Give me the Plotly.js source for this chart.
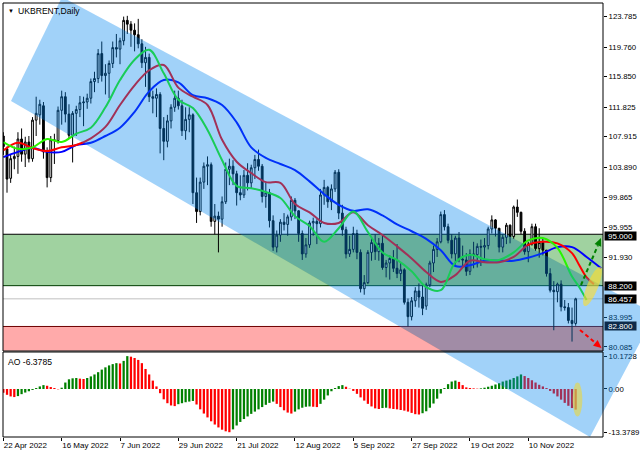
<!DOCTYPE html>
<html><head><meta charset="utf-8">
<script src="https://cdn.plot.ly/plotly-3.0.1.min.js"></script>
<style>html,body{margin:0;padding:0;background:#fff;}#chart{width:640px;height:457px;}</style>
</head><body><div id="chart"></div>
<script>
// ---------------- DATA ----------------
const dates = ['2022-04-22','2022-04-25','2022-04-26','2022-04-27','2022-04-28','2022-04-29',
'2022-05-02','2022-05-03','2022-05-04','2022-05-05','2022-05-06','2022-05-09','2022-05-10','2022-05-11','2022-05-12','2022-05-13','2022-05-16','2022-05-17','2022-05-18','2022-05-19','2022-05-20','2022-05-23','2022-05-24','2022-05-25','2022-05-26','2022-05-27','2022-05-30','2022-05-31',
'2022-06-01','2022-06-02','2022-06-03','2022-06-06','2022-06-07','2022-06-08','2022-06-09','2022-06-10','2022-06-13','2022-06-14','2022-06-15','2022-06-16','2022-06-17','2022-06-20','2022-06-21','2022-06-22','2022-06-23','2022-06-24','2022-06-27','2022-06-28','2022-06-29','2022-06-30',
'2022-07-01','2022-07-04','2022-07-05','2022-07-06','2022-07-07','2022-07-08','2022-07-11','2022-07-12','2022-07-13','2022-07-14','2022-07-15','2022-07-18','2022-07-19','2022-07-20','2022-07-21','2022-07-22','2022-07-25','2022-07-26','2022-07-27','2022-07-28','2022-07-29',
'2022-08-01','2022-08-02','2022-08-03','2022-08-04','2022-08-05','2022-08-08','2022-08-09','2022-08-10','2022-08-11','2022-08-12','2022-08-15','2022-08-16','2022-08-17','2022-08-18','2022-08-19','2022-08-22','2022-08-23','2022-08-24','2022-08-25','2022-08-26','2022-08-29','2022-08-30','2022-08-31',
'2022-09-01','2022-09-02','2022-09-05','2022-09-06','2022-09-07','2022-09-08','2022-09-09','2022-09-12','2022-09-13','2022-09-14','2022-09-15','2022-09-16','2022-09-19','2022-09-20','2022-09-21','2022-09-22','2022-09-23','2022-09-26','2022-09-27','2022-09-28','2022-09-29','2022-09-30',
'2022-10-03','2022-10-04','2022-10-05','2022-10-06','2022-10-07','2022-10-10','2022-10-11','2022-10-12','2022-10-13','2022-10-14','2022-10-17','2022-10-18','2022-10-19','2022-10-20','2022-10-21','2022-10-24','2022-10-25','2022-10-26','2022-10-27','2022-10-28','2022-10-31',
'2022-11-01','2022-11-02','2022-11-03','2022-11-04','2022-11-07','2022-11-08','2022-11-09','2022-11-10','2022-11-11','2022-11-14','2022-11-15','2022-11-16','2022-11-17','2022-11-18','2022-11-21','2022-11-22','2022-11-23','2022-11-24','2022-11-25','2022-11-28','2022-11-29'];
const futureDates = ['2022-11-30','2022-12-01','2022-12-02','2022-12-05','2022-12-06','2022-12-07','2022-12-08'];

const open = [108.0,106.3,102.4,105.0,105.3,107.6,105.6,107.2,105.0,110.1,110.8,112.0,105.9,102.5,107.5,107.4,
111.4,113.2,110.9,108.1,111.0,111.5,112.4,112.5,113.0,115.2,115.6,118.9,116.0,116.3,117.6,119.7,119.5,120.6,123.3,122.8,122.0,121.4,120.2,117.7,
118.4,113.2,113.0,113.5,109.0,107.3,110.0,111.8,113.0,112.0,108.7,110.2,110.8,100.5,98.0,101.9,104.0,104.2,96.7,97.4,
97.0,99.3,103.6,104.0,103.0,100.5,100.2,102.8,101.8,103.8,104.9,104.0,100.0,100.5,96.8,93.3,94.9,96.6,96.3,97.3,
99.5,98.1,95.1,92.4,93.6,96.5,96.7,96.4,100.2,101.2,99.3,101.0,103.2,97.8,95.6,92.4,93.0,95.1,92.6,87.8,
88.6,92.6,93.9,92.7,93.8,90.6,91.2,91.8,90.5,89.8,90.3,86.0,84.1,86.2,87.5,86.7,85.5,88.3,91.2,93.0,
94.0,97.6,96.0,94.2,92.4,94.5,91.7,91.6,90.1,92.4,92.3,93.4,93.3,93.5,95.7,96.9,95.8,93.3,94.6,96.2,
94.7,98.6,97.9,95.4,92.7,93.7,96.0,93.1,93.9,92.9,89.8,87.6,87.4,88.4,85.4,85.3,83.6,83.2];
const high = [108.5,106.6,105.5,106.6,108.5,109.0,107.9,108.0,110.5,113.2,112.8,112.5,106.5,108.0,108.3,111.9,
114.0,113.8,112.2,111.3,112.0,113.3,113.2,113.6,115.6,116.5,119.5,120.5,117.5,118.0,120.5,121.5,121.0,123.8,123.9,123.2,122.9,123.5,120.8,119.8,
118.9,114.0,114.3,113.8,110.5,110.8,112.2,114.0,114.0,112.8,111.8,111.8,111.0,102.5,102.5,104.5,105.3,104.5,99.0,98.0,
100.0,104.5,105.0,104.8,103.4,102.8,103.5,104.4,104.2,105.5,106.2,104.3,101.8,101.0,97.5,95.5,97.0,97.8,97.6,100.0,
99.8,98.2,95.5,94.5,96.8,97.2,97.0,101.0,102.2,101.4,101.6,103.5,103.6,98.9,96.0,94.8,96.0,95.6,93.0,89.6,
92.9,94.6,95.0,94.5,94.8,91.6,92.2,92.9,93.7,91.3,90.5,86.5,86.7,88.0,88.5,88.4,88.6,91.5,93.5,94.5,
98.0,98.2,96.4,95.0,94.8,95.3,93.5,92.5,93.0,94.0,93.8,94.3,94.5,96.0,97.5,97.0,95.8,95.0,96.5,96.3,
98.8,99.6,98.0,95.8,94.0,96.4,96.4,95.8,94.5,92.9,90.5,88.8,88.6,88.9,86.3,85.9,85.3,86.6];
const low = [105.5,100.5,101.8,103.6,103.0,104.6,103.9,104.5,104.6,108.0,109.5,105.0,101.2,101.9,104.3,107.0,
109.5,109.8,107.6,104.5,108.0,110.5,109.3,111.6,112.3,113.8,115.0,115.2,113.5,113.0,117.0,118.4,117.5,120.0,121.5,119.8,119.2,119.6,117.0,114.5,
112.5,111.0,110.5,105.7,104.8,106.5,109.0,111.2,111.5,108.0,107.5,108.5,99.0,96.5,97.5,101.0,101.5,96.0,95.0,92.6,
96.0,99.0,101.5,101.5,98.8,99.5,99.8,100.8,101.0,102.3,103.4,99.2,98.5,95.9,92.8,92.6,94.0,95.5,94.8,96.8,
97.0,94.0,91.6,91.9,93.2,94.8,93.7,95.9,98.9,98.5,98.2,100.6,97.0,94.8,91.8,92.0,92.6,91.7,87.3,87.0,
88.4,91.5,91.6,91.5,90.3,89.3,89.0,90.0,89.2,88.8,85.7,82.8,83.6,85.4,85.3,84.3,85.0,88.0,90.0,92.0,
93.8,95.5,93.8,91.8,91.0,91.3,90.8,89.5,89.6,90.5,90.6,90.8,91.3,93.0,95.1,94.7,92.6,92.6,93.7,93.8,
94.4,97.3,95.0,92.3,91.3,93.5,92.8,91.9,92.2,89.4,87.3,82.3,86.0,84.8,84.9,83.2,80.8,82.9];
const close = [106.6,102.3,105.0,105.3,107.6,105.6,107.2,105.0,110.1,111.0,112.2,105.9,102.5,107.5,107.4,111.4,
113.2,110.9,108.1,111.0,111.5,112.4,112.5,113.0,115.2,115.6,118.9,116.0,116.3,117.6,119.7,119.5,120.6,123.3,122.8,122.0,121.4,120.2,117.7,118.4,
113.2,113.0,113.5,109.0,107.3,110.0,111.8,113.0,112.0,108.7,110.2,110.8,100.5,98.0,101.9,104.0,104.2,96.7,97.4,97.0,
99.3,103.6,104.0,103.0,100.5,100.2,102.8,101.8,103.8,104.9,104.0,100.0,100.5,96.8,93.3,94.9,96.6,96.3,97.3,99.5,
98.1,95.1,92.4,93.6,96.5,96.7,96.4,100.2,101.2,99.3,101.0,103.2,97.8,95.6,92.4,93.0,95.1,92.6,87.8,88.6,
92.6,93.9,92.7,93.8,90.6,91.2,91.8,90.5,89.8,90.3,86.0,84.1,86.2,87.5,86.7,85.2,88.3,91.2,93.0,94.0,
97.6,96.0,94.2,92.4,94.5,91.7,91.6,90.1,92.4,92.3,93.4,93.3,93.5,95.7,96.9,95.8,93.3,94.6,96.2,94.7,
98.6,97.9,95.4,92.7,93.7,96.0,93.1,93.9,92.9,89.8,87.6,87.4,88.4,85.4,85.3,83.6,83.2,86.457];

// Alligator lines (every 4 bars, index into the date list)
const lipsIdx  = [0,4,8,12,16,20,24,28,32,36,40,44,48,52,56,60,64,68,72,76,80,84,88,92,96,100,104,108,112,116,120,124,128,132,136,140,144,148,152,156,158,160];
const lips = [107.2,106.3,106.5,107.6,107.2,108.3,109.1,111.8,115.4,118.1,
 119.4,116.3,112.8,111.7,108.8,104.8,101.4,101.1,100.6,99.8,
 97.4,96.1,94.0,95.8,98.0,95.3,92.6,91.6,90.1,88.0,
 87.6,91.3,92.3,91.7,91.6,92.6,94.2,94.5,93.2,89.4,88.0,86.3];
const teethIdx = [0,4,8,12,16,20,24,28,32,36,40,44,48,52,56,60,64,68,72,76,80,84,88,92,96,100,104,108,112,116,120,124,128,132,136,140,144,148,152,156,158,160,162];
const teeth = [106.1,107.1,106.4,106.0,106.5,106.8,107.7,109.2,112.1,114.7,
 116.7,117.4,114.4,113.2,112.1,107.5,104.6,103.1,101.9,101.8,
 99.0,97.9,96.5,96.5,97.9,96.2,94.9,93.4,91.8,90.0,
 88.7,89.6,91.5,91.3,91.3,92.0,93.6,94.0,93.8,92.5,90.9,89.3,88.4];
const jawIdx   = [0,4,8,12,16,20,24,28,32,36,40,44,48,52,56,60,64,68,72,76,80,84,88,92,96,100,104,108,112,116,120,124,128,132,136,140,144,148,152,156,160,164];
const jaw = [105.2,105.9,106.4,105.9,105.9,106.8,107.1,108.0,109.1,111.2,
 113.9,115.4,115.1,113.4,113.0,112.1,109.8,106.5,105.1,104.3,
 103.5,102.0,100.3,98.9,98.1,98.3,97.5,96.3,95.4,94.4,
 92.9,90.8,90.9,91.5,91.5,91.5,91.9,92.5,93.3,93.3,92.0,90.5];

// Awesome Oscillator
const ao = [-1.2,-1.8,-2.3,-2.5,-2.2,-1.6,-1.1,-0.7,-0.3,0.3,
0.8,1.2,1.0,0.6,0.3,-0.1,0.4,2.0,3.0,3.3,
3.4,3.2,3.1,3.4,3.9,4.5,5.2,6.0,6.7,7.3,
7.7,8.0,7.9,8.7,10.1728,10.0,9.6,9.0,8.0,6.2,
4.5,2.6,0.8,-1.3,-3.2,-4.4,-5.1,-5.3,-4.7,-4.4,
-4.1,-3.9,-3.7,-4.8,-6.3,-7.6,-8.8,-10.0,-11.0,-11.9,
-12.6,-13.1,-13.3789,-12.5,-11.3,-10.2,-9.3,-8.5,-7.7,-7.0,
-6.3,-5.6,-4.9,-4.3,-3.9,-4.6,-5.6,-6.6,-7.3,-7.6,
-7.0,-6.3,-5.8,-5.5,-5.4,-5.5,-5.6,-4.6,-3.3,-2.0,
-0.7,0.3,0.9,1.2,0.7,0.1,-0.6,-1.5,-2.6,-3.6,
-4.6,-5.4,-6.0,-6.2,-5.9,-5.8,-6.0,-6.2,-6.3,-6.5,
-6.7,-7.0,-7.4,-7.8,-7.9,-7.5,-6.9,-5.8,-4.5,-3.0,
-1.4,0.3,1.5,2.3,2.6,2.2,1.2,0.5,0.3,0.2,
0.1,0.2,0.4,0.7,1.0,1.4,1.8,2.3,2.6,2.9,
3.4,3.9,4.5,4.0,3.4,2.7,2.0,1.3,0.8,0.3,
-0.6,-1.4,-2.3,-3.3,-4.3,-5.2,-5.9,-6.3785];

const tickDates  = ['2022-04-22','2022-05-16','2022-06-07','2022-06-29','2022-07-21','2022-08-12','2022-09-05','2022-09-27','2022-10-19','2022-11-10'];
const tickLabels = ['22 Apr 2022','16 May 2022','7 Jun 2022','29 Jun 2022','21 Jul 2022','12 Aug 2022','5 Sep 2022','27 Sep 2022','19 Oct 2022','10 Nov 2022'];
const priceTicks = [123.785,119.760,115.850,111.825,107.915,103.890,99.865,95.955,91.930,83.995,80.085];
const priceTickText = ['123.785','119.760','115.850','111.825','107.915','103.890','99.865','95.955','91.930','83.995','80.085'];
const aoTicks = [10.1728, 0, -13.3789];
const aoTickText = ['10.1728','0.00','-13.3789'];
const greenZone = [88.2, 95.0];
const redZone = [79.6, 82.8];
const bidPrice = 86.457;
const boxLevels = [95.0, 88.2, 86.457, 82.8];
const boxTexts = ['95.000','88.200','86.457','82.800'];
const boxColors = ['#000000','#000000','#000000','#0d2a4a'];

// ---------------- GEOMETRY ----------------
const W=640,H=457,ML=3,MR=37,MT=3,MB=20,PW=W-ML-MR,PH=H-MT-MB;
const mainDom=[(H-MB-351)/PH,1], aoDom=[0,(H-MB-352)/PH];
const yRange=[79.555,125.598], aoRange=[-14.86,11.45];
const pxX=x=>(x-ML)/PW, pxY=y=>(H-MB-y)/PH;
const pY=p=>mainDom[0]+(p-yRange[0])/(yRange[1]-yRange[0])*(mainDom[1]-mainDom[0]);
const toPath=pts=>'M'+pts.map(p=>p[0].toFixed(5)+','+p[1].toFixed(5)).join('L')+'Z';
// hand-drawn channel (pixel corners)
const channelPx=[[11,101],[62,-3],[655,314],[590,437]];
const channel=channelPx.map(p=>[pxX(p[0]),pxY(p[1])]);
function clipHalf(poly,ax,val,keepGreater){const out=[];for(let i=0;i<poly.length;i++){const a=poly[i],b=poly[(i+1)%poly.length];const ia=keepGreater?a[ax]>=val:a[ax]<=val;const ib=keepGreater?b[ax]>=val:b[ax]<=val;if(ia)out.push(a);if(ia!==ib){const t=(val-a[ax])/(b[ax]-a[ax]);out.push([a[0]+t*(b[0]-a[0]),a[1]+t*(b[1]-a[1])]);}}return out;}
function clipBand(poly,y0,y1){let p=clipHalf(poly,0,0,true);p=clipHalf(p,0,1,false);p=clipHalf(p,1,y0,true);p=clipHalf(p,1,y1,false);return p;}
function ellipse(cx,cy,rx,ry,deg){const a=deg*Math.PI/180,pts=[];for(let k=0;k<40;k++){const t=k/40*2*Math.PI;const x=cx+rx*Math.cos(t)*Math.cos(a)-ry*Math.sin(t)*Math.sin(a);const y=cy+rx*Math.cos(t)*Math.sin(a)+ry*Math.sin(t)*Math.cos(a);pts.push([pxX(x),pxY(y)]);}return toPath(pts);}
function arrow(tail,head,color){const dx=head[0]-tail[0],dy=head[1]-tail[1],L=Math.hypot(dx,dy),ux=dx/L,uy=dy/L,hl=8,hw=3.6;const bx=head[0]-ux*hl,by=head[1]-uy*hl;
 return [{type:'line',xref:'paper',yref:'paper',layer:'above',x0:pxX(tail[0]),y0:pxY(tail[1]),x1:pxX(bx),y1:pxY(by),line:{color:color,width:2,dash:'4px,3px'}},
 {type:'path',xref:'paper',yref:'paper',layer:'above',path:toPath([[pxX(head[0]),pxY(head[1])],[pxX(bx-uy*hw),pxY(by+ux*hw)],[pxX(bx+uy*hw),pxY(by-ux*hw)]]),fillcolor:color,line:{width:0}}];}

const allDates=dates.concat(futureDates);
const aoColors=ao.map((v,i)=>(i>0&&v>ao[i-1])?'rgb(0,128,0)':'rgb(255,0,0)');
const F='Liberation Sans, Arial, sans-serif';

const traces=[
 {type:'candlestick',x:dates,open:open,high:high,low:low,close:close,xaxis:'x',yaxis:'y',whiskerwidth:0,
  increasing:{line:{color:'#000',width:1},fillcolor:'#ffffff'},decreasing:{line:{color:'#000',width:1},fillcolor:'#000000'},hoverinfo:'skip',showlegend:false},
 {type:'scatter',mode:'lines',x:jawIdx.map(i=>allDates[i]),y:jaw,yaxis:'y',line:{color:'rgb(0,0,255)',width:2,shape:'spline',smoothing:1},hoverinfo:'skip',showlegend:false},
 {type:'scatter',mode:'lines',x:teethIdx.map(i=>allDates[i]),y:teeth,yaxis:'y',line:{color:'rgb(255,0,0)',width:2,shape:'spline',smoothing:1},hoverinfo:'skip',showlegend:false},
 {type:'scatter',mode:'lines',x:lipsIdx.map(i=>allDates[i]),y:lips,yaxis:'y',line:{color:'rgb(40,245,0)',width:2,shape:'spline',smoothing:1},hoverinfo:'skip',showlegend:false},
 {type:'bar',x:dates,y:ao,yaxis:'y2',marker:{color:aoColors,line:{width:0}},width:0.62,hoverinfo:'skip',showlegend:false}
];

const shapes=[
 {type:'rect',xref:'paper',yref:'y',x0:0,x1:1,y0:greenZone[0],y1:greenZone[1],fillcolor:'rgb(160,210,160)',line:{width:0},layer:'below'},
 {type:'path',xref:'paper',yref:'paper',path:toPath(clipBand(channel,pY(greenZone[0]),pY(greenZone[1]))),fillcolor:'rgb(162,200,110)',line:{width:0},layer:'below'},
 {type:'rect',xref:'paper',yref:'y',x0:0,x1:1,y0:redZone[0],y1:redZone[1],fillcolor:'rgb(255,170,170)',line:{width:0},layer:'below'},
 {type:'path',xref:'paper',yref:'paper',path:toPath(clipBand(channel,pY(redZone[0]),pY(redZone[1]))),fillcolor:'rgb(255,145,124)',line:{width:0},layer:'below'},
 {type:'line',xref:'paper',yref:'y',x0:0,x1:1,y0:greenZone[1],y1:greenZone[1],line:{color:'#000',width:1},layer:'below'},
 {type:'line',xref:'paper',yref:'y',x0:0,x1:1,y0:greenZone[0],y1:greenZone[0],line:{color:'rgb(0,60,0)',width:1},layer:'below'},
 {type:'line',xref:'paper',yref:'y',x0:0,x1:1,y0:redZone[1],y1:redZone[1],line:{color:'rgb(110,0,0)',width:1},layer:'below'},
 {type:'line',xref:'paper',yref:'y',x0:0,x1:1,y0:bidPrice,y1:bidPrice,line:{color:'rgb(192,192,192)',width:1},layer:'below'},
 {type:'path',xref:'paper',yref:'paper',path:toPath(channel),fillcolor:'rgb(0,132,240)',opacity:0.37,line:{width:0},layer:'above'},
 {type:'rect',xref:'paper',yref:'paper',x0:0,x1:1,y0:mainDom[0],y1:mainDom[1],line:{color:'#000',width:1},fillcolor:'rgba(0,0,0,0)',layer:'above'},
 {type:'rect',xref:'paper',yref:'paper',x0:0,x1:1,y0:aoDom[0],y1:aoDom[1],line:{color:'#000',width:1},fillcolor:'rgba(0,0,0,0)',layer:'above'},
 {type:'path',xref:'paper',yref:'paper',path:ellipse(592.5,286.5,21,5.5,-68),fillcolor:'rgba(255,222,40,0.6)',line:{width:0},layer:'above'},
 {type:'path',xref:'paper',yref:'paper',path:ellipse(577.5,399.5,4.8,17,0),fillcolor:'rgba(235,215,60,0.6)',line:{width:0},layer:'above'}
].concat(arrow([581,285],[601,238],'rgb(0,128,0)'),arrow([580,330],[601.5,348],'rgb(255,0,0)'));

const annotations=[
 {xref:'paper',yref:'paper',x:pxX(6),y:pxY(11),xanchor:'left',yanchor:'middle',text:'▼',showarrow:false,font:{family:F,size:6,color:'#000'}},
 {xref:'paper',yref:'paper',x:pxX(16),y:pxY(11),xanchor:'left',yanchor:'middle',text:'UKBRENT,Daily',showarrow:false,font:{family:F,size:8.6,color:'#000'}},
 {xref:'paper',yref:'paper',x:pxX(6),y:pxY(362),xanchor:'left',yanchor:'middle',text:'AO -6.3785',showarrow:false,font:{family:F,size:8.6,color:'#000'}}
].concat(boxLevels.map((v,i)=>({xref:'paper',yref:'y',x:1,xshift:1,y:v,yshift:(i===0?-1.5:0),xanchor:'left',yanchor:'middle',text:boxTexts[i],showarrow:false,
  bgcolor:boxColors[i],borderpad:0,width:31,height:8,font:{family:F,size:8,color:'#fff'}})));

const layout={width:W,height:H,margin:{l:ML,r:MR,t:MT,b:MB,pad:0},paper_bgcolor:'#fff',plot_bgcolor:'#fff',showlegend:false,
 font:{family:F,size:8,color:'#000'},
 xaxis:{type:'category',categoryorder:'array',categoryarray:allDates,range:[-0.1,164.5],anchor:'y2',
  tickvals:tickDates,ticktext:tickLabels,ticks:'outside',ticklen:3,tickcolor:'#000',ticklabelposition:'outside right',
  tickfont:{family:F,size:8,color:'#000'},showgrid:false,zeroline:false,showline:false,rangeslider:{visible:false},fixedrange:true},
 yaxis:{domain:mainDom,range:yRange,side:'right',anchor:'x',tickvals:priceTicks,ticktext:priceTickText,ticks:'outside',ticklen:3,tickcolor:'#000',
  tickfont:{family:F,size:7.8,color:'#000'},showgrid:false,zeroline:false,showline:false,fixedrange:true},
 yaxis2:{domain:aoDom,range:aoRange,side:'right',anchor:'x',tickvals:aoTicks,ticktext:aoTickText,ticks:'outside',ticklen:3,tickcolor:'#000',
  tickfont:{family:F,size:7.8,color:'#000'},showgrid:false,zeroline:false,showline:false,fixedrange:true},
 shapes:shapes,annotations:annotations,hovermode:false};
Plotly.newPlot('chart',traces,layout,{staticPlot:true,displayModeBar:false});
</script></body></html>
